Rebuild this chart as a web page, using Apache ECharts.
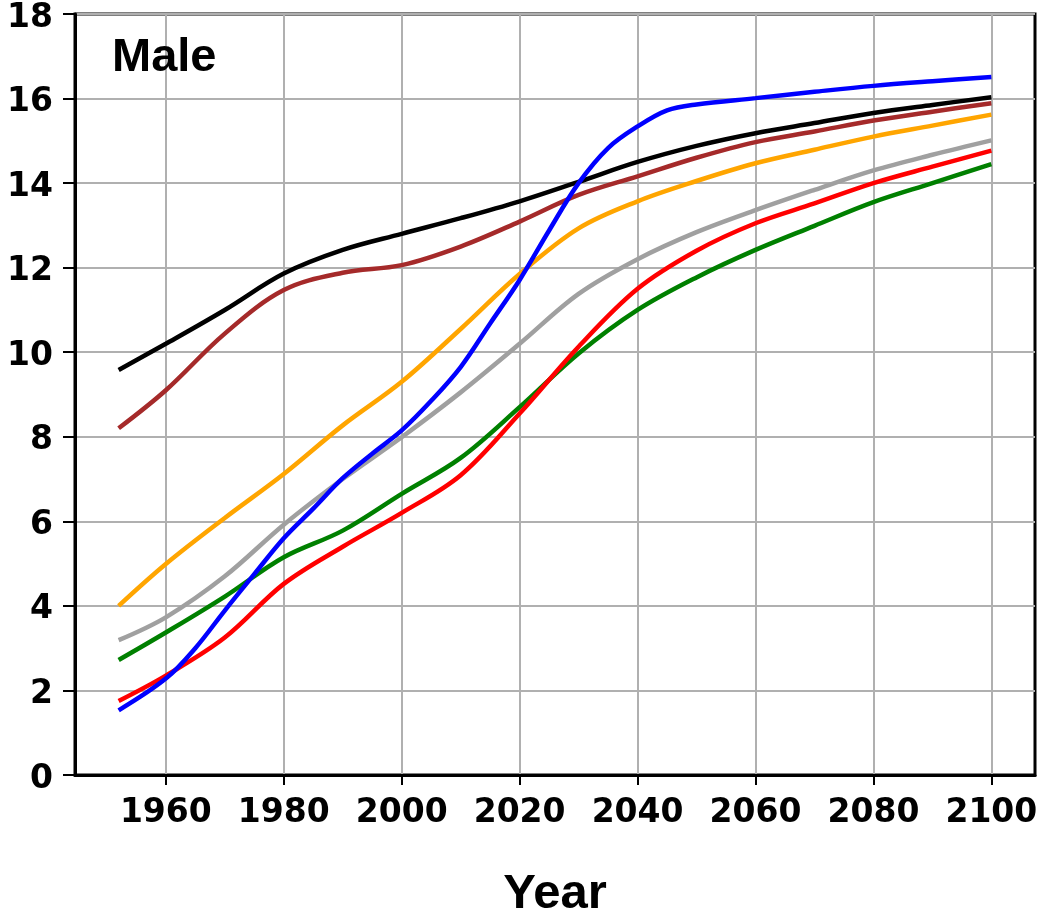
<!DOCTYPE html>
<html>
<head>
<meta charset="utf-8">
<script src="https://cdn.jsdelivr.net/npm/echarts@6/dist/echarts.min.js"></script>
<style>
  html, body { margin: 0; padding: 0; background: #fff; }
  #chart { width: 1043px; height: 916px; }
</style>
</head>
<body>
<div id="chart"></div>
<script>
// Years sampled for most curves
const years = [1952, 1960, 1970, 1980, 1990, 2000, 2010, 2020, 2030, 2040, 2050, 2060, 2070, 2080, 2090, 2100];
// The blue curve bends sharply, so it is sampled more finely
const blueYears = [1952, 1960, 1965, 1970, 1975, 1980, 1985, 1990, 1995, 2000, 2005, 2010, 2015, 2020, 2025, 2030, 2035, 2040, 2045, 2050, 2060, 2070, 2080, 2090, 2100];

const blackValues  = [9.58, 10.2, 11.0, 11.86, 12.42, 12.8, 13.17, 13.57, 14.03, 14.5, 14.88, 15.18, 15.42, 15.66, 15.85, 16.03];
const brownValues  = [8.2, 9.1, 10.44, 11.47, 11.88, 12.06, 12.5, 13.09, 13.72, 14.16, 14.6, 14.97, 15.22, 15.48, 15.69, 15.89];
const orangeValues = [4.0, 4.99, 6.08, 7.12, 8.27, 9.3, 10.55, 11.85, 12.93, 13.57, 14.05, 14.47, 14.79, 15.1, 15.36, 15.62];
const grayValues   = [3.19, 3.73, 4.7, 5.92, 7.0, 7.99, 9.05, 10.2, 11.38, 12.2, 12.84, 13.36, 13.84, 14.3, 14.67, 15.01];
const greenValues  = [2.72, 3.37, 4.22, 5.15, 5.78, 6.65, 7.5, 8.7, 9.97, 11.0, 11.77, 12.42, 12.99, 13.55, 14.0, 14.45];
const redValues    = [1.75, 2.35, 3.25, 4.52, 5.4, 6.2, 7.09, 8.55, 10.13, 11.5, 12.4, 13.05, 13.52, 14.0, 14.39, 14.77];
const blueValues   = [1.53, 2.28, 3.0, 3.89, 4.75, 5.6, 6.3, 7.02, 7.6, 8.15, 8.85, 9.65, 10.68, 11.71, 12.88, 14.0, 14.83, 15.34, 15.72, 15.86, 16.01, 16.16, 16.3, 16.41, 16.51];

const xTickYears = [1960, 1980, 2000, 2020, 2040, 2060, 2080, 2100];
const panelTitle = 'Male';
const xAxisTitle = 'Year';

const pairs = (xs, ys) => xs.map((x, i) => [x, ys[i]]);

const tickFont = { fontFamily: 'DejaVu Sans', fontWeight: 'bold', fontSize: 33, color: '#000' };
const gridLine = { show: true, lineStyle: { color: '#b0b0b0', width: 2 } };

function line(name, color, xs, ys) {
  return {
    name: name,
    type: 'line',
    data: pairs(xs, ys),
    smooth: 0.35,
    showSymbol: false,
    symbol: 'none',
    lineStyle: { color: color, width: 4.5 },
    itemStyle: { color: color },
    z: 3
  };
}

const chart = echarts.init(document.getElementById('chart'), null, { renderer: 'canvas' });
chart.setOption({
  backgroundColor: '#fff',
  animation: false,
  grid: {
    left: 75, right: 8, top: 14, bottom: 141,
    outerBoundsMode: 'none',
    containLabel: false,
    show: true, borderColor: '#000', borderWidth: 3, backgroundColor: 'transparent'
  },
  xAxis: {
    type: 'value',
    min: 1944.6,
    max: 2107.4,
    name: xAxisTitle,
    nameLocation: 'middle',
    nameGap: 95,
    nameTextStyle: { fontFamily: 'Liberation Sans', fontWeight: 'bold', fontSize: 49, color: '#000' },
    axisLine: { show: true, onZero: false, lineStyle: { color: '#000', width: 3 } },
    axisTick: { show: true, length: 10, customValues: xTickYears, lineStyle: { color: '#000', width: 2 } },
    axisLabel: Object.assign({
      margin: 22,
      customValues: xTickYears,
      formatter: v => String(v)
    }, tickFont),
    splitLine: Object.assign({ customValues: xTickYears }, gridLine)
  },
  yAxis: {
    type: 'value',
    min: 0,
    max: 18,
    interval: 2,
    axisLine: { show: true, onZero: false, lineStyle: { color: '#000', width: 3 } },
    axisTick: { show: true, length: 12, lineStyle: { color: '#000', width: 2 } },
    axisLabel: {
      margin: 22,
      formatter: v => '{n|' + v + '}',
      rich: {
        n: Object.assign({ padding: [8, 0, 0, 0] }, tickFont)
      }
    },
    splitLine: gridLine
  },
  graphic: [{
    type: 'text',
    left: 112,
    top: 35,
    style: {
      text: panelTitle,
      font: 'bold 47px "Liberation Sans"',
      fill: '#000'
    },
    z: 10
  }],
  series: [
    line('green', '#008000', years, greenValues),
    line('red', '#ff0000', years, redValues),
    line('gray', '#a0a0a0', years, grayValues),
    line('orange', '#ffa500', years, orangeValues),
    line('brown', '#a52a2a', years, brownValues),
    line('black', '#000000', years, blackValues),
    line('blue', '#0000ff', blueYears, blueValues)
  ]
});
</script>
</body>
</html>
